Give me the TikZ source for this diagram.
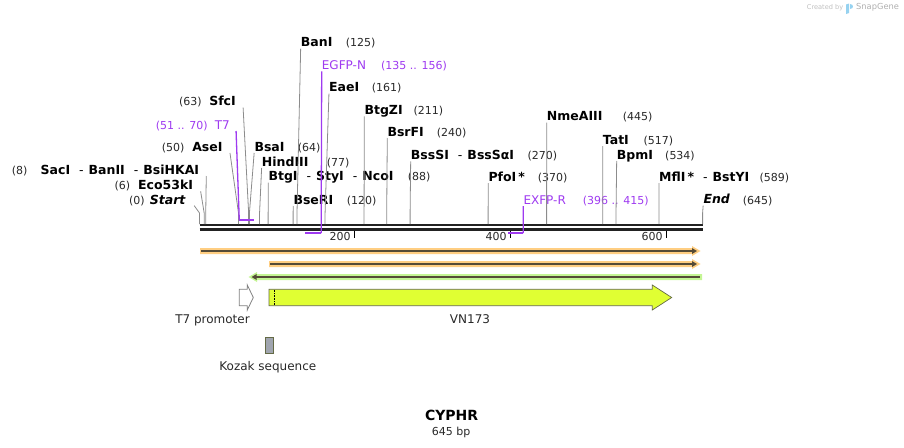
\documentclass[tikz,border=0pt]{standalone}
\usepackage{fontspec}
\setmainfont{DejaVu Sans}[ItalicFont={DejaVu Sans Oblique},BoldFont={DejaVu Sans Bold},BoldItalicFont={DejaVu Sans Bold Oblique}]
\usetikzlibrary{positioning}
\usetikzlibrary{arrows.meta}
\definecolor{cutgray}{RGB}{140,140,140}
\definecolor{numgray}{RGB}{40,40,40}
\definecolor{primerc}{RGB}{158,58,240}
\definecolor{bbcol}{RGB}{34,34,34}
\definecolor{orband}{RGB}{255,206,130}
\definecolor{grband}{RGB}{196,245,148}
\definecolor{featdark}{RGB}{85,75,55}
\definecolor{vnfill}{RGB}{224,255,51}
\definecolor{vndraw}{RGB}{100,106,70}
\definecolor{kozakfill}{RGB}{160,165,175}
\definecolor{logogray}{RGB}{175,175,175}
\definecolor{logoblue}{RGB}{150,210,240}
\newcommand{\sepdash}{\hspace{9pt}{\mdseries -}\hspace{5pt}}

\begin{document}
\begin{tikzpicture}[
  x=1pt,y=-1pt,
  font=\fontsize{11}{13}\selectfont,
  every node/.style={inner sep=0pt},
  enz/.style={anchor=base west,font=\fontsize{12.5}{14}\selectfont\bfseries},
  enzl/.style={enz,anchor=base east},
  num/.style={anchor=base west,text=numgray},
  primer/.style={anchor=base west,text=primerc,font=\fontsize{12}{14}\selectfont},
  primerl/.style={primer,anchor=base east},
  oligorange/.style={num,text=primerc},
  cut/.style={draw=cutgray,line width=0.8pt,shorten <=2pt},
  oligo/.style={draw=primerc,line width=1.3pt},
  oligobar/.style={draw=primerc,line width=2pt},
  backbone/.style={draw=bbcol,line width=2pt},
  tickmark/.style={draw=black,line width=1.5pt},
  scalelbl/.style={anchor=base east,text=numgray},
  featline/.style={draw=featdark,line width=1.6pt},
  featlbl/.style={anchor=base,font=\fontsize{12}{14}\selectfont,text=numgray}]

  \useasboundingbox (0,0) rectangle (904,447);

  % Sites on the backbone (s) and the knees of the cut lines (k)
  \foreach \b in {0,6,8,50,63,64,77,88,120,125,161,211,240,270,370,445,517,534,589,645}{
    \coordinate (s\b) at ({199.5+0.78*\b},224);
    \coordinate (k\b) at ({199.5+0.78*\b},213);
  }
  % Primer ends, above (pf) and below (pr) the backbone
  \foreach \b in {51,70,135,156,396,415}{
    \coordinate (pf\b) at ({199.5+0.78*\b},220);
    \coordinate (pr\b) at ({199.5+0.78*\b},233);
  }

  % Features
  \fill[orband] (200,248) -- (692,248) -- (692,246) -- (700.5,251) -- (692,256) -- (692,254) -- (200,254) -- cycle;
  \draw[featline,-{Triangle[length=5pt,width=5.5pt]}] (201,251) -- (697,251);
  \fill[orband] (269,261) -- (692,261) -- (692,259) -- (700.5,264) -- (692,269) -- (692,267) -- (269,267) -- cycle;
  \draw[featline,-{Triangle[length=5pt,width=5.5pt]}] (270,264) -- (697,264);
  \fill[grband] (702,274) -- (257,274) -- (257,272) -- (248.5,277) -- (257,282) -- (257,280) -- (702,280) -- cycle;
  \draw[featline,{Triangle[length=5pt,width=5.5pt]}-] (251.5,277) -- (700,277);

  \filldraw[fill=white,draw=gray,line width=0.8pt] (239.3,289.3) -- (247.3,289.3) -- (247.3,285) -- (253.3,297.5) -- (247.3,310) -- (247.3,305.7) -- (239.3,305.7) -- cycle;
  \filldraw[fill=vnfill,draw=vndraw,line width=0.7pt] (269,289.3) -- (652.3,289.3) -- (652.3,285) -- (671.7,297.5) -- (652.3,310) -- (652.3,305.7) -- (269,305.7) -- cycle;
  \draw[densely dotted,line width=0.6pt] (273.8,289.8) -- (273.8,305.2);
  \filldraw[fill=kozakfill,draw=vndraw,line width=0.6pt] (265.6,337) rectangle (273.2,353);

  \node[featlbl] (t7prom) at (212.5,323.5) {T7 promoter};
  \node[featlbl] (vn173) at (470,323.5) {VN173};
  \node[featlbl] (kozak) at (267.8,370) {Kozak sequence};

  % Backbone and scale
  \draw[backbone] (199.5,225) -- (703,225);
  \draw[backbone,line width=2.6pt] (199.5,229.3) -- (703,229.3);
  \foreach \t in {200,400,600}{
    \draw[tickmark] ({198.7+0.78*\t},230.5) -- ++(0,7.5);
    \node[scalelbl] (tick\t) at ({194.7+0.78*\t},240.7) {\t};
  }

  % Enzymes to the right of their sites
  \node[enz] (banI) at (300.7,46.7) {BanI};
  \node[num] (banIn) at (345.7,46.7) {(125)};
  \node[enz] (eaeI) at (329,91.7) {EaeI};
  \node[num] (eaeIn) at (371.7,91.7) {(161)};
  \node[enz] (btgZI) at (364.3,114.3) {BtgZI};
  \node[num] (btgZIn) at (413.3,114.3) {(211)};
  \node[enz] (nmeAIII) at (546.7,120.7) {NmeAIII};
  \node[num] (nmeAIIIn) at (622.7,120.7) {(445)};
  \node[enz] (bsrFI) at (387.3,136) {BsrFI};
  \node[num] (bsrFIn) at (436.7,136) {(240)};
  \node[enz] (tatI) at (602.7,144) {TatI};
  \node[num] (tatIn) at (643.3,144) {(517)};
  \node[enz] (bsaI) at (254.3,151) {BsaI};
  \node[num] (bsaIn) at (297.7,151) {(64)};
  \node[enz] (bssSI) at (410.7,159.3) {BssSI\sepdash BssSαI};
  \node[num] (bssSIn) at (527.3,159.3) {(270)};
  \node[enz] (bpmI) at (616.7,159) {BpmI};
  \node[num] (bpmIn) at (665,159) {(534)};
  \node[enz] (hindIII) at (261.7,166) {HindIII};
  \node[num] (hindIIIn) at (326.7,166) {(77)};
  \node[enz] (btgI) at (268.3,180.7) {BtgI\sepdash StyI\sepdash NcoI};
  \node[num] (btgIn) at (407.7,180.7) {(88)};
  \node[enz] (pfoI) at (488.3,181) {PfoI\,*};
  \node[num] (pfoIn) at (537.7,181) {(370)};
  \node[enz] (mflI) at (659,181) {MflI\,*\sepdash BstYI};
  \node[num] (mflIn) at (759.3,181) {(589)};
  \node[enz] (bseRI) at (293.3,204) {BseRI};
  \node[num] (bseRIn) at (346.7,204) {(120)};
  \node[enz] (seqend) at (703.3,203.7) {\textit{End}};
  \node[num] (seqendn) at (742.7,204) {(645)};

  % Enzymes to the left of their sites
  \node[enzl] (sfcI) at (236,105.7) {SfcI};
  \node[num] (sfcIn) at (179,105.7) {(63)};
  \node[enzl] (aseI) at (222.7,151) {AseI};
  \node[num] (aseIn) at (161.7,151) {(50)};
  \node[enzl] (sacI) at (199.3,174) {SacI\sepdash BanII\sepdash BsiHKAI};
  \node[num] (sacIn) at (11.7,174) {(8)};
  \node[enzl] (eco53kI) at (193.3,189.3) {Eco53kI};
  \node[num] (eco53kIn) at (114.3,189.3) {(6)};
  \node[enzl] (seqstart) at (186,204) {\textit{Start}};
  \node[num] (seqstartn) at (129,204) {(0)};

  % Primers
  \node[primer] (egfpN) at (321.7,69.3) {EGFP-N};
  \node[oligorange] (egfpNr) at (381,69.3) {(135 .. 156)};
  \node[primerl] (t7) at (230,129) {T7};
  \node[oligorange] (t7r) at (155.7,129) {(51 .. 70)};
  \node[primer] (exfpR) at (523.3,204) {EXFP-R};
  \node[oligorange] (exfpRr) at (582.7,204) {(396 .. 415)};

  % Cut lines from the labels to the sites
  \draw[cut] (banI.base west) -- (k125) -- (s125);
  \draw[cut] (eaeI.base west) -- (k161) -- (s161);
  \draw[cut] (btgZI.base west) -- (k211) -- (s211);
  \draw[cut] (nmeAIII.base west) -- (k445) -- (s445);
  \draw[cut] (bsrFI.base west) -- (k240) -- (s240);
  \draw[cut] (tatI.base west) -- (k517) -- (s517);
  \draw[cut] (bsaI.base west) -- (k64) -- (s64);
  \draw[cut] (bssSI.base west) -- (k270) -- (s270);
  \draw[cut] (bpmI.base west) -- (k534) -- (s534);
  \draw[cut] (hindIII.base west) -- (k77) -- (s77);
  \draw[cut] (btgI.base west) -- (k88) -- (s88);
  \draw[cut] (pfoI.base west) -- (k370) -- (s370);
  \draw[cut] (mflI.base west) -- (k589) -- (s589);
  \draw[cut] (bseRI.base west) -- (k120) -- (s120);
  \draw[cut] (seqend.base west) -- (k645) -- (s645);
  \draw[cut] ([xshift=7pt]sfcI.base east) -- (k63) -- (s63);
  \draw[cut] ([xshift=7pt]aseI.base east) -- (k50) -- (s50);
  \draw[cut] ([xshift=7pt]sacI.base east) -- (k8) -- (s8);
  \draw[cut] ([xshift=7pt]eco53kI.base east) -- (k6) -- (s6);
  \draw[cut] ([xshift=7pt]seqstart.base east) -- (k0) -- (s0);

  % Primer binding sites
  \draw[oligo,shorten <=2pt] ([xshift=6pt]t7.base east) -- (pf51);
  \draw[oligobar] (pf51) -- (pf70);
  \draw[oligo,shorten <=2pt] (egfpN.base west) -- (pr156);
  \draw[oligobar] (pr156) -- (pr135);
  \draw[oligo,shorten <=2pt] (exfpR.base west) -- (pr415);
  \draw[oligobar] (pr415) -- (pr396);

  % Title
  \node[anchor=base,font=\fontsize{14}{16}\selectfont\bfseries] (title) at (451.6,420.7) {CYPHR};
  \node[anchor=base,text=numgray] (size) at (451.2,435) {645 bp};

  % Logo
  \node[anchor=base west,text=logogray!80,font=\fontsize{6.6}{8}\selectfont] (created) at (806.7,9.5) {Created by};
  \fill[logoblue] (846,4.5) -- (849,3.5) -- (849,13) -- (846,14) -- cycle;
  \fill[logoblue] (849.5,3.5) .. controls (854,3.5) and (854,8.5) .. (849.5,8.5) -- cycle;
  \node[anchor=base west,text=logogray,font=\fontsize{8.3}{10}\selectfont] (snapgene) at (856,9.5) {SnapGene};
\end{tikzpicture}
\end{document}
